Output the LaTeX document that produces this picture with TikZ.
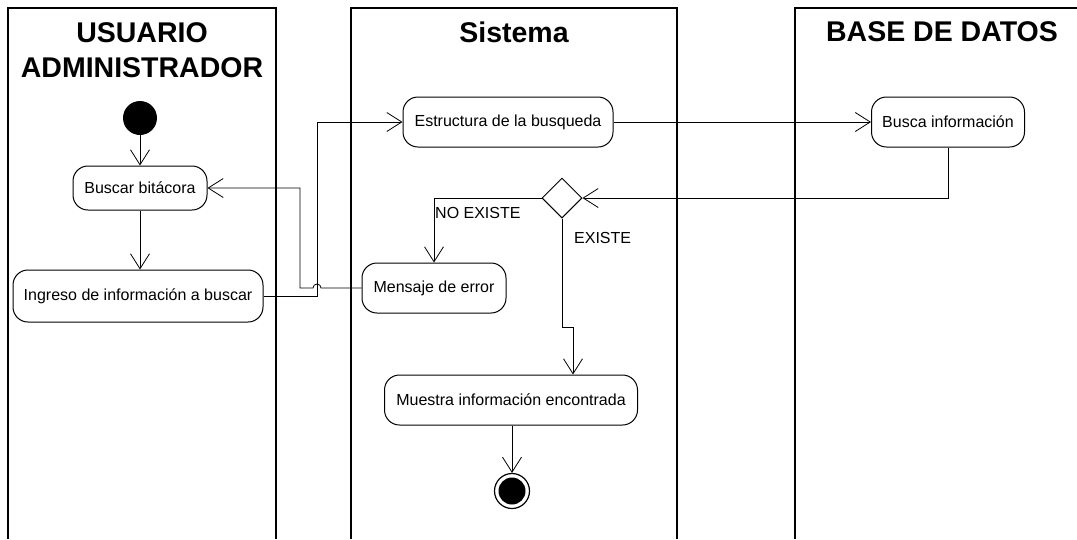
\documentclass[tikz,border=0pt]{standalone}
\usepackage{fontspec}
\setmainfont{Liberation Sans}
\usetikzlibrary{arrows.meta,shapes.geometric}
\begin{document}
\begin{tikzpicture}[x=1pt,y=-1pt,
  lane/.style={line width=1.6pt, draw=black},
  act/.style={draw, line width=1pt, rounded corners=15pt, inner sep=0pt,
    font=\fontsize{16}{19}\selectfont},
  flow/.style={line width=0.8pt,
    -{Straight Barb[length=15pt,width=19pt,line width=0.8pt]}},
  lanetitle/.style={font=\fontsize{28.5}{35}\selectfont\bfseries, align=center},
  guard/.style={font=\fontsize{16}{19}\selectfont, inner sep=0pt}
]
\useasboundingbox (0,0) rectangle (1077,539);

% swimlanes (open at the bottom)
\draw[lane] (8,539) -- (8,8) -- (276,8) -- (276,539);
\draw[lane] (351,539) -- (351,8) -- (677,8) -- (677,539);
\draw[lane] (795,539) -- (795,8) -- (1077,8);

\node[lanetitle] (t1) at (142,50) {USUARIO\\ADMINISTRADOR};
\node[lanetitle] (t2) at (514,32) {Sistema};
\node[lanetitle] (t3) at (942,32) {BASE DE DATOS};

% activities
\node[circle, fill=black, minimum size=34pt, inner sep=0pt] (start) at (140,118) {};
\node[act, minimum width=134pt, minimum height=44pt] (buscar) at (140,188) {Buscar bitácora};
\node[act, minimum width=250pt, minimum height=52pt] (ingreso) at (138,296) {Ingreso de información a buscar};
\node[act, minimum width=210pt, minimum height=50pt] (estructura) at (508,122) {Estructura de la busqueda};
\node[act, minimum width=153pt, minimum height=50pt] (busca) at (948,122) {Busca información};
\node[diamond, draw, line width=1pt, minimum width=40pt, minimum height=40pt, inner sep=0pt] (dec) at (562,198) {};
\node[act, minimum width=144pt, minimum height=50pt] (mensaje) at (434,288) {Mensaje de error};
\node[act, minimum width=253pt, minimum height=50pt] (muestra) at (511,400) {Muestra información encontrada};
\node[circle, draw, line width=1.2pt, minimum size=35pt, inner sep=0pt] (fin) at (512,491) {};
\fill (fin.center) circle (13.5);

\node[guard, anchor=west] (noex) at (435,213) {NO EXISTE};
\node[guard, anchor=west] (ex) at (574,238) {EXISTE};

\coordinate (j) at (573,327);

% control flow
\draw[flow] (start) -- (buscar);
\draw[flow] (buscar.south) -- (buscar.south |- ingreso.north);
\draw[flow] (ingreso.east) -- (317,296) |- (estructura.west);
\draw[flow] (mensaje.west) -- (321,288) arc[start angle=0, end angle=-180, radius=4]
  -- (300,288) |- (buscar.east);
\draw[flow] (estructura) -- (busca);
\draw[flow] (busca.south) |- (dec.east);
\draw[flow] (dec.west) -| (mensaje.north);
\draw[flow] (dec.south) |- (j) -- (j |- muestra.north);
\draw[flow] (muestra.south -| fin.north) -- (fin.north);
\end{tikzpicture}
\end{document}
